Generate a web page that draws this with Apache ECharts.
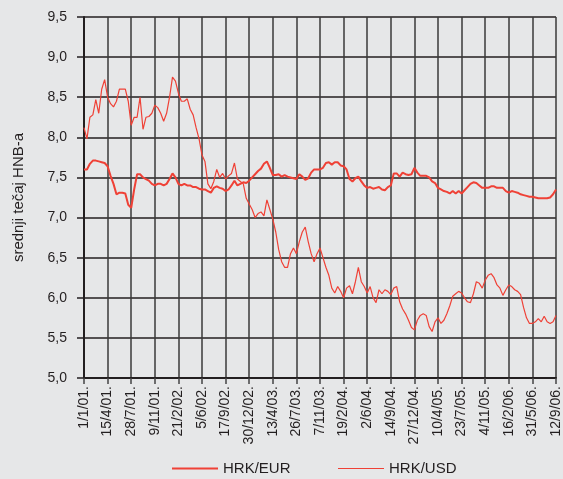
<!DOCTYPE html>
<html>
<head>
<meta charset="utf-8">
<script src="https://cdn.jsdelivr.net/npm/echarts@6/dist/echarts.min.js"></script>
<style>
  html, body { margin: 0; padding: 0; background: #e6e7e8; }
  #chart { width: 563px; height: 479px; }
</style>
</head>
<body>
<div id="chart"></div>
<script>
// tick labels, one every 8 samples
const tickLabels = ['1/1/01.', '15/4/01.', '28/7/01.', '9/11/01.', '21/2/02.', '5/6/02.', '17/9/02.',
  '30/12/02.', '13/4/03.', '26/7/03.', '7/11/03.', '19/2/04.', '2/6/04.', '14/9/04.', '27/12/04.',
  '10/4/05.', '23/7/05.', '4/11/05.', '16/2/06.', '31/5/06.', '12/9/06.']
const samplesPerTick = 8

// HRK/EUR
const hrkEur = [
  7.6, 7.6, 7.67, 7.71, 7.71, 7.7, 7.69, 7.68,
  7.64, 7.52, 7.42, 7.29, 7.31, 7.31, 7.3, 7.16,
  7.12, 7.35, 7.54, 7.54, 7.5, 7.48, 7.46, 7.42,
  7.4, 7.42, 7.42, 7.4, 7.42, 7.48, 7.55, 7.5,
  7.42, 7.4, 7.42, 7.4, 7.4, 7.38, 7.38, 7.36,
  7.35, 7.35, 7.33, 7.31, 7.37, 7.39, 7.37, 7.36,
  7.33, 7.35, 7.4, 7.46, 7.4, 7.42, 7.44, 7.43,
  7.46, 7.5, 7.54, 7.58, 7.61, 7.67, 7.7, 7.62,
  7.53, 7.53, 7.54, 7.51, 7.53, 7.51, 7.5, 7.49,
  7.48, 7.54, 7.51, 7.47, 7.49, 7.56, 7.6, 7.6,
  7.6, 7.62, 7.68, 7.69, 7.66, 7.69, 7.69, 7.65,
  7.64, 7.6, 7.48, 7.45, 7.49, 7.51, 7.45, 7.4,
  7.37, 7.38, 7.36, 7.37, 7.38, 7.35, 7.34, 7.38,
  7.4, 7.55, 7.55, 7.51, 7.56, 7.54, 7.53, 7.54,
  7.62, 7.56, 7.52, 7.52, 7.52, 7.5, 7.45, 7.43,
  7.37, 7.35, 7.33, 7.32, 7.3, 7.33, 7.3, 7.33,
  7.3, 7.34, 7.38, 7.42, 7.44, 7.43, 7.4, 7.37,
  7.37, 7.37, 7.39, 7.39, 7.37, 7.37, 7.37, 7.33,
  7.31, 7.33, 7.32, 7.31, 7.29, 7.28, 7.27, 7.26,
  7.26, 7.25, 7.24, 7.24, 7.24, 7.24, 7.25, 7.29,
  7.35
]

// HRK/USD
const hrkUsd = [
  8.12, 7.98, 8.25, 8.28, 8.47, 8.3, 8.6, 8.72,
  8.5, 8.42, 8.38, 8.45, 8.6, 8.6, 8.6, 8.45,
  8.15, 8.25, 8.25, 8.5, 8.1, 8.25, 8.26, 8.3,
  8.4, 8.37, 8.3, 8.2, 8.3, 8.5, 8.75, 8.7,
  8.55, 8.45, 8.45, 8.48, 8.35, 8.28, 8.12, 7.98,
  7.78, 7.7, 7.42, 7.36, 7.45, 7.6, 7.5, 7.55,
  7.48, 7.52, 7.55, 7.68, 7.48, 7.45, 7.42, 7.24,
  7.17, 7.1, 7.0, 7.05, 7.07, 7.02, 7.22, 7.1,
  6.98, 6.82, 6.6, 6.45, 6.38, 6.38, 6.55, 6.62,
  6.55, 6.7, 6.82, 6.88, 6.7, 6.55, 6.45, 6.55,
  6.62, 6.5, 6.38, 6.28, 6.12, 6.06, 6.14, 6.08,
  6.0, 6.12, 6.15, 6.05, 6.2, 6.38, 6.2, 6.14,
  6.06, 6.14, 6.0, 5.94, 6.1, 6.05, 6.1, 6.08,
  6.04, 6.12, 6.14, 5.95, 5.86, 5.8, 5.72, 5.63,
  5.6, 5.72, 5.78, 5.8, 5.78, 5.64, 5.58, 5.7,
  5.75, 5.68, 5.72, 5.8, 5.9, 6.02, 6.05, 6.08,
  6.06, 6.0, 5.95, 5.94, 6.05, 6.2, 6.18, 6.12,
  6.22, 6.28, 6.3, 6.25, 6.16, 6.12, 6.03, 6.1,
  6.16, 6.14, 6.1, 6.08, 6.04, 5.88, 5.75, 5.68,
  5.68, 5.7, 5.74, 5.7, 5.77, 5.7, 5.68, 5.7,
  5.78
]

const categories = hrkEur.map((v, i) => String(i))
const isTick = (i) => i % samplesPerTick === 0

const red = '#ef4136'
const ink = '#231f20'
const font = 'Liberation Sans, Arial, sans-serif'

const chart = echarts.init(document.getElementById('chart'))

const legendText = { fontFamily: font, fontSize: 15, color: ink }

chart.setOption({
  backgroundColor: '#e6e7e8',
  animation: false,
  textStyle: { fontFamily: font, color: ink },
  grid: { left: 84, right: 7, top: 17, bottom: 101, containLabel: false },
  legend: [
    {
      left: 167, top: 456, icon: 'rect', itemWidth: 46, itemHeight: 2, itemGap: 10,
      itemStyle: { borderWidth: 0 }, lineStyle: { width: 0 },
      textStyle: legendText, data: ['HRK/EUR']
    },
    {
      left: 333, top: 456, icon: 'rect', itemWidth: 46, itemHeight: 1, itemGap: 10,
      itemStyle: { borderWidth: 0 }, lineStyle: { width: 0 },
      textStyle: legendText, data: ['HRK/USD']
    }
  ],
  xAxis: {
    type: 'category',
    boundaryGap: false,
    data: categories,
    axisLine: { lineStyle: { color: ink, width: 2 } },
    axisTick: { interval: isTick, length: 6, lineStyle: { color: '#444', width: 1.5 } },
    axisLabel: {
      interval: isTick,
      rotate: 90,
      fontSize: 14,
      color: ink,
      margin: 8,
      formatter: (v, i) => tickLabels[i / samplesPerTick]
    },
    splitLine: { show: true, interval: isTick, lineStyle: { color: '#3a3a3a', width: 1.5 } }
  },
  yAxis: {
    type: 'value',
    min: 5,
    max: 9.5,
    interval: 0.5,
    name: 'srednji tečaj HNB-a',
    nameLocation: 'middle',
    nameGap: 58,
    nameTextStyle: { fontSize: 15, color: ink, fontFamily: font },
    axisLine: { show: true, lineStyle: { color: ink, width: 2 } },
    axisTick: { show: true, length: 7, lineStyle: { color: ink, width: 1.5 } },
    axisLabel: {
      fontSize: 14,
      color: ink,
      margin: 17,
      formatter: (v) => v.toFixed(1).replace('.', ',')
    },
    splitLine: { lineStyle: { color: ink, width: 1.5 } }
  },
  series: [
    {
      name: 'HRK/EUR',
      type: 'line',
      data: hrkEur,
      symbol: 'none',
      lineStyle: { color: red, width: 2 },
      itemStyle: { color: red }
    },
    {
      name: 'HRK/USD',
      type: 'line',
      data: hrkUsd,
      symbol: 'none',
      lineStyle: { color: red, width: 1.2 },
      itemStyle: { color: red }
    }
  ]
})
</script>
</body>
</html>
